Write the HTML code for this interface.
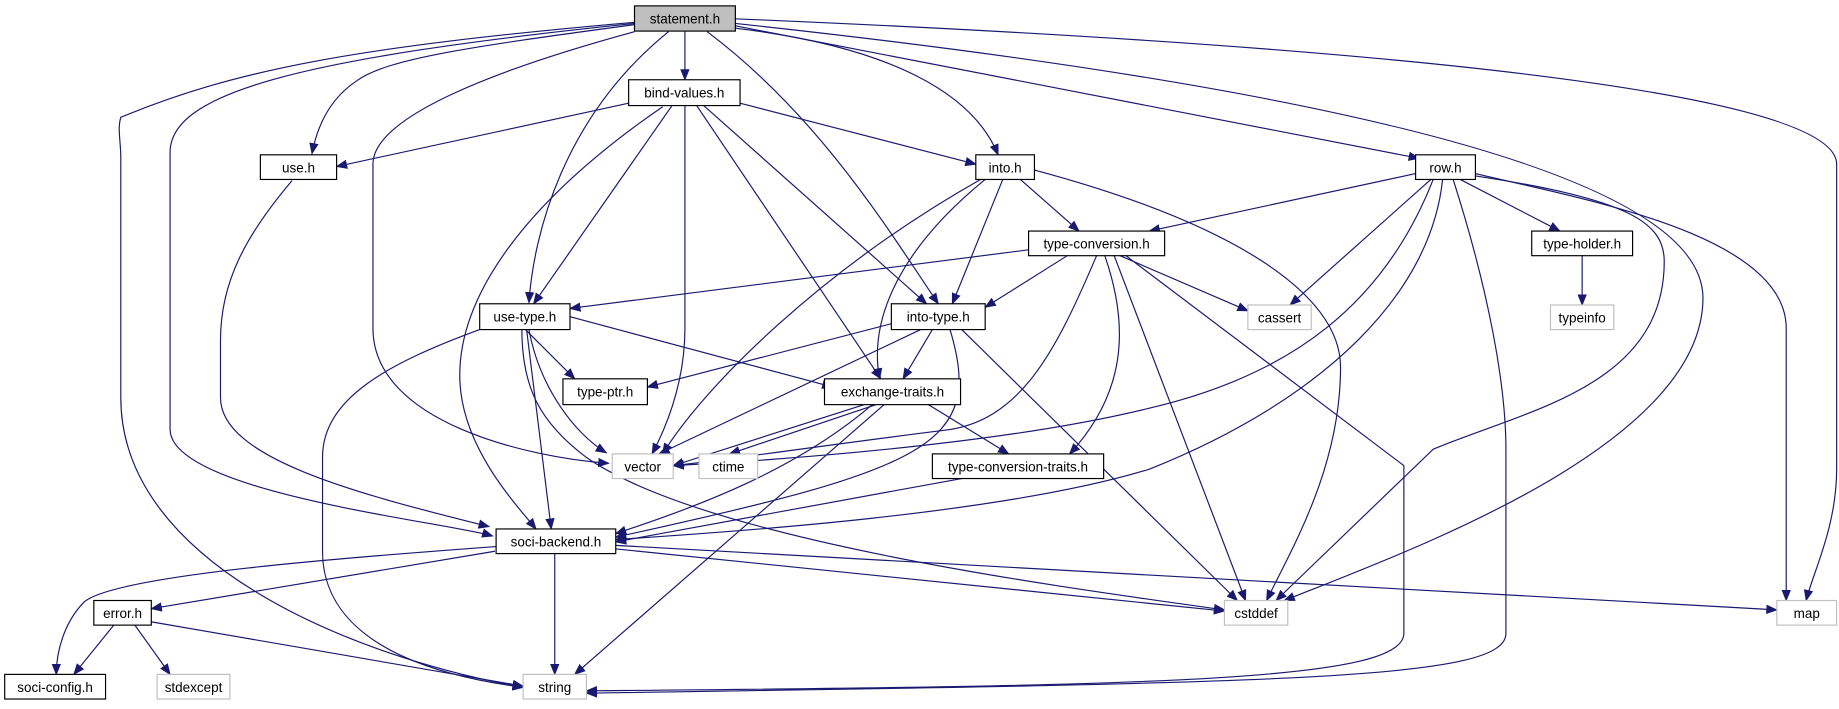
<!DOCTYPE html>
<html><head><meta charset="utf-8"><style>
html,body{margin:0;padding:0;background:#fff;}
svg{display:block;}
text{font-family:"Liberation Sans",sans-serif;font-size:11.5px;fill:#000;}
</style></head><body>
<svg width="1839" height="709" viewBox="0 0 1568 604.5" xmlns="http://www.w3.org/2000/svg">
<defs><marker id="a" markerWidth="10" markerHeight="8" refX="9" refY="4" orient="auto" markerUnits="userSpaceOnUse"><path d="M0,0 L10,4 L0,8 z" fill="#191970"/></marker></defs>
<g fill="none" stroke="#191970" stroke-width="1" marker-end="url(#a)">
<!-- statement.h -->
<path d="M541,19 C300,40 200,60 103,100 C100,110 103,120 103,135 L103,339 C103,480 300,560 446,586"/>
<path d="M541,20 C250,50 145,80 145,130 L145,366 C145,420 380,445 420,457"/>
<path d="M541,21 C400,40 330,50 304,69 C280,85 270,110 266,131"/>
<path d="M541,27 C420,60 318,100 318,140 L318,280 C318,360 450,390 519,395"/>
<path d="M570,27 C480,100 455,200 451,258"/>
<path d="M584,27 L584,68"/>
<path d="M603,27 C700,100 760,200 800,259"/>
<path d="M627,24 C760,40 830,80 851,132"/>
<path d="M627,22 L1210,135"/>
<path d="M627,20 C1000,60 1452,130 1452,254 C1452,380 1200,470 1095,512"/>
<path d="M627,16 C1200,40 1566,80 1566,140 L1566,400 C1566,450 1545,490 1540,512"/>
<!-- bind-values.h -->
<path d="M536,88 L287,142"/>
<path d="M631,88 L832,140"/>
<path d="M573,90 L455,259"/>
<path d="M584,90 L584,280 C584,330 565,370 556,387"/>
<path d="M565,91 C450,170 392,250 392,320 C392,380 440,430 457,451"/>
<path d="M594,90 L751,323"/>
<path d="M600,90 L790,259"/>
<!-- into.h -->
<path d="M870,153 L920,197"/>
<path d="M855,153 L812,259"/>
<path d="M840,153 C770,210 740,270 750,323"/>
<path d="M836,153 C700,230 600,330 565,387"/>
<path d="M882,145 C1050,190 1143,250 1143,313 C1143,400 1100,470 1080,512"/>
<!-- row.h -->
<path d="M1207,148 L980,197"/>
<path d="M1245,153 L1330,197"/>
<path d="M1220,153 L1100,260"/>
<path d="M1258,148 C1350,170 1523,200 1523,280 L1523,512"/>
<path d="M1258,150 C1390,170 1419,190 1419,223 C1419,330 1300,350 1222,383 L1088,512"/>
<path d="M1239,153 C1270,250 1284,330 1284,383 L1284,540 C1284,580 1100,582 500,591"/>
<path d="M1222,153 C1180,260 1100,320 980,348 C850,380 650,393 574,397"/>
<path d="M1230,153 C1220,250 1130,340 980,400 C850,440 600,455 525,460"/>
<!-- type-conversion.h -->
<path d="M877,213 L486,263"/>
<path d="M910,218 L840,262"/>
<path d="M955,218 L1064,265"/>
<path d="M942,218 C960,270 965,330 912,387"/>
<path d="M950,218 L1062,512"/>
<path d="M960,218 L1197,397 L1197,540 C1197,580 1000,585 500,589"/>
<path d="M935,218 C900,300 870,360 804,367 C700,380 620,392 574,397"/>
<!-- into-type.h -->
<path d="M760,276 L552,330"/>
<path d="M795,281 L770,323"/>
<path d="M785,281 L562,387"/>
<path d="M810,281 C840,380 790,400 525,458"/>
<path d="M820,281 L1055,512"/>
<!-- use-type.h -->
<path d="M448,281 L490,323"/>
<path d="M486,270 L710,330"/>
<path d="M451,281 C460,330 490,370 517,386"/>
<path d="M449,281 L470,451"/>
<path d="M409,281 C330,310 275,340 275,390 L275,470 C275,560 400,580 446,586"/>
<path d="M445,281 C445,330 460,360 500,390 C600,460 900,500 1044,520"/>
<!-- exchange-traits.h -->
<path d="M740,344 L574,397"/>
<path d="M750,344 L622,387"/>
<path d="M790,344 L860,387"/>
<path d="M745,344 C680,400 600,430 525,455"/>
<path d="M755,344 L490,575"/>
<!-- others -->
<path d="M820,408 L525,462"/>
<path d="M249,154 C210,200 188,240 188,290 L188,339 C188,390 300,420 417,449"/>
<path d="M422,470 L129,519"/>
<path d="M423,466 C300,475 100,490 72,513 C55,530 48,555 48,575"/>
<path d="M473,472 L473,575"/>
<path d="M525,468 L1044,521"/>
<path d="M525,465 L1515,520"/>
<path d="M97,533 L63,575"/>
<path d="M115,533 L145,575"/>
<path d="M128,530 L446,585"/>
<path d="M1349,218 L1349,260"/>
</g>
<g stroke-width="1">
<rect x="541" y="5" width="86" height="21.5" fill="#bfbfbf" stroke="#000"/><text x="584" y="20" text-anchor="middle">statement.h</text>
<rect x="536" y="68" width="95" height="22" fill="#fff" stroke="#000"/><text x="583.5" y="83" text-anchor="middle">bind-values.h</text>
<rect x="222" y="132" width="65" height="21" fill="#fff" stroke="#000"/><text x="254.5" y="147" text-anchor="middle">use.h</text>
<rect x="832" y="132" width="50" height="21" fill="#fff" stroke="#000"/><text x="857" y="147" text-anchor="middle">into.h</text>
<rect x="1207" y="132" width="51" height="21" fill="#fff" stroke="#000"/><text x="1232.5" y="147" text-anchor="middle">row.h</text>
<rect x="877" y="197" width="116" height="21" fill="#fff" stroke="#000"/><text x="935" y="212" text-anchor="middle">type-conversion.h</text>
<rect x="1306" y="197" width="86" height="21" fill="#fff" stroke="#000"/><text x="1349" y="212" text-anchor="middle">type-holder.h</text>
<rect x="1322" y="260" width="54" height="21" fill="#fff" stroke="#bfbfbf"/><text x="1349" y="275" text-anchor="middle">typeinfo</text>
<rect x="409" y="259" width="77" height="22" fill="#fff" stroke="#000"/><text x="447.5" y="274" text-anchor="middle">use-type.h</text>
<rect x="760" y="259" width="80" height="22" fill="#fff" stroke="#000"/><text x="800" y="274" text-anchor="middle">into-type.h</text>
<rect x="1064" y="260" width="54" height="21" fill="#fff" stroke="#bfbfbf"/><text x="1091" y="275" text-anchor="middle">cassert</text>
<rect x="480" y="323" width="72" height="22" fill="#fff" stroke="#000"/><text x="516" y="338" text-anchor="middle">type-ptr.h</text>
<rect x="703" y="323" width="116" height="22" fill="#fff" stroke="#000"/><text x="761" y="338" text-anchor="middle">exchange-traits.h</text>
<rect x="522" y="387" width="52" height="21" fill="#fff" stroke="#bfbfbf"/><text x="548" y="402" text-anchor="middle">vector</text>
<rect x="596" y="387" width="50" height="21" fill="#fff" stroke="#bfbfbf"/><text x="621" y="402" text-anchor="middle">ctime</text>
<rect x="795" y="387" width="146" height="21" fill="#fff" stroke="#000"/><text x="868" y="402" text-anchor="middle">type-conversion-traits.h</text>
<rect x="423" y="451" width="102" height="21" fill="#fff" stroke="#000"/><text x="474" y="466" text-anchor="middle">soci-backend.h</text>
<rect x="80" y="512" width="49" height="21" fill="#fff" stroke="#000"/><text x="104.5" y="527" text-anchor="middle">error.h</text>
<rect x="1044" y="512" width="54" height="21" fill="#fff" stroke="#bfbfbf"/><text x="1071" y="527" text-anchor="middle">cstddef</text>
<rect x="1515" y="512" width="51" height="21" fill="#fff" stroke="#bfbfbf"/><text x="1540.5" y="527" text-anchor="middle">map</text>
<rect x="4" y="575" width="86" height="21" fill="#fff" stroke="#000"/><text x="47" y="590" text-anchor="middle">soci-config.h</text>
<rect x="134" y="575" width="62" height="21" fill="#fff" stroke="#bfbfbf"/><text x="165" y="590" text-anchor="middle">stdexcept</text>
<rect x="446" y="575" width="54" height="21" fill="#fff" stroke="#bfbfbf"/><text x="473" y="590" text-anchor="middle">string</text>
</g>
</svg>
</body></html>
